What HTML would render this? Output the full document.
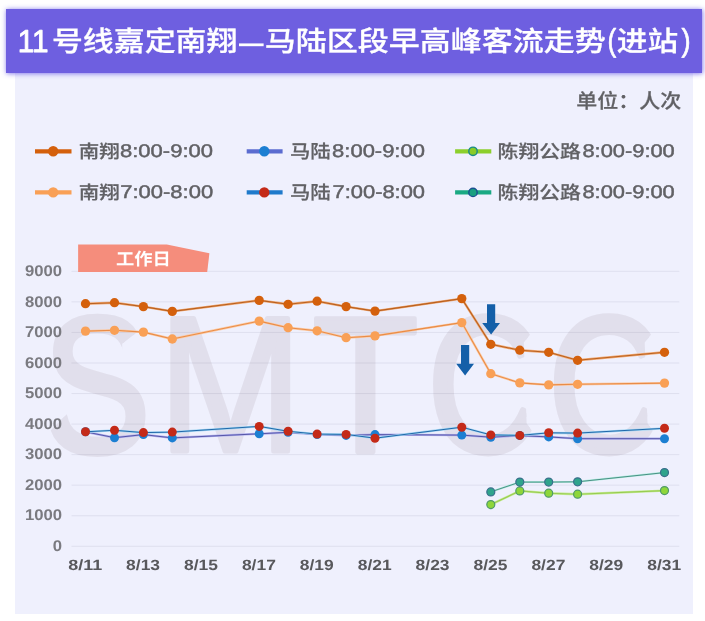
<!DOCTYPE html>
<html lang="zh"><head><meta charset="utf-8"><title>11号线嘉定南翔—马陆区段早高峰客流走势</title>
<style>
html,body{margin:0;padding:0;background:#fff;}
body{width:705px;height:621px;position:relative;overflow:hidden;font-family:"Liberation Sans","Noto Sans CJK SC",sans-serif;}
.panel{position:absolute;left:15px;top:40px;width:678px;height:573.5px;background:#eff0fd;}
.banner{position:absolute;left:6px;top:9px;width:696px;height:64px;background:#6e5fe0;box-shadow:0 0 5px .5px rgba(100,85,230,.85);}
</style></head><body>
<div class="panel"></div>
<div class="banner"></div>
<svg width="705" height="621" viewBox="0 0 705 621" style="position:absolute;left:0;top:0" text-rendering="geometricPrecision" font-family='"Liberation Sans", "Noto Sans CJK SC", sans-serif'>
<defs><clipPath id="wmclip"><path clip-rule="evenodd" d="M0 0H705V621H0Z M523.8 342.5L545.8 315.1V450.7L526.6 423.3Z M644.7 342.5L666.7 315.1V450.7L647.5 423.3Z M122.2 343.8L153 319.8V357H122.2Z M36 445.1V400H81Z"/></clipPath></defs>
<text clip-path="url(#wmclip)"><tspan x="42.91" y="451.56" font-size="193.62" font-weight="400" fill="#e1dfec" textLength="107.28" lengthAdjust="spacingAndGlyphs" stroke="#e1dfec" stroke-width="6" stroke-linejoin="round">S</tspan><tspan x="158.59" y="451.05" font-size="192.60" font-weight="400" fill="#e1dfec" textLength="143.52" lengthAdjust="spacingAndGlyphs" stroke="#e1dfec" stroke-width="5" stroke-linejoin="round">M</tspan><tspan x="311.99" y="451.55" font-size="194.03" font-weight="400" fill="#e1dfec" textLength="106.87" lengthAdjust="spacingAndGlyphs" stroke="#e1dfec" stroke-width="4.3" stroke-linejoin="round">T</tspan><tspan x="427.90" y="451.07" font-size="192.21" font-weight="400" fill="#e1dfec" textLength="112.48" lengthAdjust="spacingAndGlyphs" stroke="#e1dfec" stroke-width="7" stroke-linejoin="round">C</tspan><tspan x="548.75" y="451.07" font-size="192.21" font-weight="400" fill="#e1dfec" textLength="112.86" lengthAdjust="spacingAndGlyphs" stroke="#e1dfec" stroke-width="7" stroke-linejoin="round">C</tspan></text>
<line x1="71.5" x2="679.3" y1="546.30" y2="546.30" stroke="rgba(40,40,80,0.08)" stroke-width="1"/>
<line x1="71.5" x2="679.3" y1="515.75" y2="515.75" stroke="rgba(40,40,80,0.08)" stroke-width="1"/>
<line x1="71.5" x2="679.3" y1="485.20" y2="485.20" stroke="rgba(40,40,80,0.08)" stroke-width="1"/>
<line x1="71.5" x2="679.3" y1="454.65" y2="454.65" stroke="rgba(40,40,80,0.08)" stroke-width="1"/>
<line x1="71.5" x2="679.3" y1="424.10" y2="424.10" stroke="rgba(40,40,80,0.08)" stroke-width="1"/>
<line x1="71.5" x2="679.3" y1="393.55" y2="393.55" stroke="rgba(40,40,80,0.08)" stroke-width="1"/>
<line x1="71.5" x2="679.3" y1="363.00" y2="363.00" stroke="rgba(40,40,80,0.08)" stroke-width="1"/>
<line x1="71.5" x2="679.3" y1="332.45" y2="332.45" stroke="rgba(40,40,80,0.08)" stroke-width="1"/>
<line x1="71.5" x2="679.3" y1="301.90" y2="301.90" stroke="rgba(40,40,80,0.08)" stroke-width="1"/>
<line x1="71.5" x2="679.3" y1="271.35" y2="271.35" stroke="rgba(40,40,80,0.08)" stroke-width="1"/>
<g font-weight="bold" font-size="15.54" fill="#7a7a80">
<text x="52.80" y="551.00" textLength="9.29" lengthAdjust="spacingAndGlyphs">0</text>
<text x="24.94" y="520.45" textLength="37.15" lengthAdjust="spacingAndGlyphs">1000</text>
<text x="24.94" y="489.90" textLength="37.15" lengthAdjust="spacingAndGlyphs">2000</text>
<text x="24.94" y="459.35" textLength="37.15" lengthAdjust="spacingAndGlyphs">3000</text>
<text x="24.94" y="428.80" textLength="37.15" lengthAdjust="spacingAndGlyphs">4000</text>
<text x="24.94" y="398.25" textLength="37.15" lengthAdjust="spacingAndGlyphs">5000</text>
<text x="24.94" y="367.70" textLength="37.15" lengthAdjust="spacingAndGlyphs">6000</text>
<text x="24.94" y="337.15" textLength="37.15" lengthAdjust="spacingAndGlyphs">7000</text>
<text x="24.94" y="306.60" textLength="37.15" lengthAdjust="spacingAndGlyphs">8000</text>
<text x="24.94" y="276.05" textLength="37.15" lengthAdjust="spacingAndGlyphs">9000</text>
</g>
<g font-weight="bold" font-size="14.83" fill="#58585c">
<text x="68.22" y="570.33" textLength="33.95" lengthAdjust="spacingAndGlyphs">8/11</text>
<text x="126.12" y="570.33" textLength="33.95" lengthAdjust="spacingAndGlyphs">8/13</text>
<text x="184.03" y="570.33" textLength="33.95" lengthAdjust="spacingAndGlyphs">8/15</text>
<text x="241.92" y="570.33" textLength="33.95" lengthAdjust="spacingAndGlyphs">8/17</text>
<text x="299.82" y="570.33" textLength="33.95" lengthAdjust="spacingAndGlyphs">8/19</text>
<text x="357.72" y="570.33" textLength="33.95" lengthAdjust="spacingAndGlyphs">8/21</text>
<text x="415.62" y="570.33" textLength="33.95" lengthAdjust="spacingAndGlyphs">8/23</text>
<text x="473.52" y="570.33" textLength="33.95" lengthAdjust="spacingAndGlyphs">8/25</text>
<text x="531.43" y="570.33" textLength="33.95" lengthAdjust="spacingAndGlyphs">8/27</text>
<text x="589.33" y="570.33" textLength="33.95" lengthAdjust="spacingAndGlyphs">8/29</text>
<text x="647.23" y="570.33" textLength="33.95" lengthAdjust="spacingAndGlyphs">8/31</text>
</g>
<polygon points="78.1,244.4 166.8,244.4 209.4,253.3 207.2,272 78.1,272" fill="#f58d7c"/>
<text x="116.01" y="264.55" font-size="17.04" font-weight="700" fill="#fff" textLength="54.91" lengthAdjust="spacingAndGlyphs">工作日</text>
<polyline points="85.5,303.7 114.5,302.7 143.4,306.6 172.3,311.4 259.2,300.4 288.1,304.3 317.1,301.2 346.1,306.6 375.0,311.1 461.8,298.6 490.8,344.3 519.8,350.2 548.7,352.3 577.6,360.3 664.5,352.3" fill="none" stroke="#f2a870" stroke-width="2.4" stroke-linejoin="round"/>
<polyline points="85.5,303.7 114.5,302.7 143.4,306.6 172.3,311.4 259.2,300.4 288.1,304.3 317.1,301.2 346.1,306.6 375.0,311.1 461.8,298.6 490.8,344.3 519.8,350.2 548.7,352.3 577.6,360.3 664.5,352.3" fill="none" stroke="#b86020" stroke-width="1.1" stroke-linejoin="round"/>
<circle cx="85.5" cy="303.7" r="4.65" fill="#d4600c"/>
<circle cx="114.5" cy="302.7" r="4.65" fill="#d4600c"/>
<circle cx="143.4" cy="306.6" r="4.65" fill="#d4600c"/>
<circle cx="172.3" cy="311.4" r="4.65" fill="#d4600c"/>
<circle cx="259.2" cy="300.4" r="4.65" fill="#d4600c"/>
<circle cx="288.1" cy="304.3" r="4.65" fill="#d4600c"/>
<circle cx="317.1" cy="301.2" r="4.65" fill="#d4600c"/>
<circle cx="346.1" cy="306.6" r="4.65" fill="#d4600c"/>
<circle cx="375.0" cy="311.1" r="4.65" fill="#d4600c"/>
<circle cx="461.8" cy="298.6" r="4.65" fill="#d4600c"/>
<circle cx="490.8" cy="344.3" r="4.65" fill="#d4600c"/>
<circle cx="519.8" cy="350.2" r="4.65" fill="#d4600c"/>
<circle cx="548.7" cy="352.3" r="4.65" fill="#d4600c"/>
<circle cx="577.6" cy="360.3" r="4.65" fill="#d4600c"/>
<circle cx="664.5" cy="352.3" r="4.65" fill="#d4600c"/>
<polyline points="85.5,331.1 114.5,330.3 143.4,332.1 172.3,339.0 259.2,321.1 288.1,327.7 317.1,330.8 346.1,337.7 375.0,335.9 461.8,322.6 490.8,373.7 519.8,382.9 548.7,384.9 577.6,384.3 664.5,383.1" fill="none" stroke="#fcc9a2" stroke-width="2.4" stroke-linejoin="round"/>
<polyline points="85.5,331.1 114.5,330.3 143.4,332.1 172.3,339.0 259.2,321.1 288.1,327.7 317.1,330.8 346.1,337.7 375.0,335.9 461.8,322.6 490.8,373.7 519.8,382.9 548.7,384.9 577.6,384.3 664.5,383.1" fill="none" stroke="#e98c48" stroke-width="1.1" stroke-linejoin="round"/>
<circle cx="85.5" cy="331.1" r="4.65" fill="#f9a056"/>
<circle cx="114.5" cy="330.3" r="4.65" fill="#f9a056"/>
<circle cx="143.4" cy="332.1" r="4.65" fill="#f9a056"/>
<circle cx="172.3" cy="339.0" r="4.65" fill="#f9a056"/>
<circle cx="259.2" cy="321.1" r="4.65" fill="#f9a056"/>
<circle cx="288.1" cy="327.7" r="4.65" fill="#f9a056"/>
<circle cx="317.1" cy="330.8" r="4.65" fill="#f9a056"/>
<circle cx="346.1" cy="337.7" r="4.65" fill="#f9a056"/>
<circle cx="375.0" cy="335.9" r="4.65" fill="#f9a056"/>
<circle cx="461.8" cy="322.6" r="4.65" fill="#f9a056"/>
<circle cx="490.8" cy="373.7" r="4.65" fill="#f9a056"/>
<circle cx="519.8" cy="382.9" r="4.65" fill="#f9a056"/>
<circle cx="548.7" cy="384.9" r="4.65" fill="#f9a056"/>
<circle cx="577.6" cy="384.3" r="4.65" fill="#f9a056"/>
<circle cx="664.5" cy="383.1" r="4.65" fill="#f9a056"/>
<polyline points="85.5,431.8 114.5,437.7 143.4,434.6 172.3,437.9 259.2,433.8 288.1,432.3 317.1,434.5 346.1,435.4 375.0,434.6 461.8,435.1 490.8,437.2 519.8,435.6 548.7,436.9 577.6,438.7 664.5,438.7" fill="none" stroke="#b0b0ee" stroke-width="2.2" stroke-linejoin="round"/>
<polyline points="85.5,431.8 114.5,437.7 143.4,434.6 172.3,437.9 259.2,433.8 288.1,432.3 317.1,434.5 346.1,435.4 375.0,434.6 461.8,435.1 490.8,437.2 519.8,435.6 548.7,436.9 577.6,438.7 664.5,438.7" fill="none" stroke="#5656a8" stroke-width="1.0" stroke-linejoin="round"/>
<circle cx="85.5" cy="431.8" r="4.5" fill="#1c7fd2"/>
<circle cx="114.5" cy="437.7" r="4.5" fill="#1c7fd2"/>
<circle cx="143.4" cy="434.6" r="4.5" fill="#1c7fd2"/>
<circle cx="172.3" cy="437.9" r="4.5" fill="#1c7fd2"/>
<circle cx="259.2" cy="433.8" r="4.5" fill="#1c7fd2"/>
<circle cx="288.1" cy="432.3" r="4.5" fill="#1c7fd2"/>
<circle cx="317.1" cy="434.5" r="4.5" fill="#1c7fd2"/>
<circle cx="346.1" cy="435.4" r="4.5" fill="#1c7fd2"/>
<circle cx="375.0" cy="434.6" r="4.5" fill="#1c7fd2"/>
<circle cx="461.8" cy="435.1" r="4.5" fill="#1c7fd2"/>
<circle cx="490.8" cy="437.2" r="4.5" fill="#1c7fd2"/>
<circle cx="519.8" cy="435.6" r="4.5" fill="#1c7fd2"/>
<circle cx="548.7" cy="436.9" r="4.5" fill="#1c7fd2"/>
<circle cx="577.6" cy="438.7" r="4.5" fill="#1c7fd2"/>
<circle cx="664.5" cy="438.7" r="4.5" fill="#1c7fd2"/>
<polyline points="85.5,431.8 114.5,430.3 143.4,432.6 172.3,432.1 259.2,426.4 288.1,431.3 317.1,434.1 346.1,434.4 375.0,438.2 461.8,427.2 490.8,434.9 519.8,435.4 548.7,432.8 577.6,433.1 664.5,428.3" fill="none" stroke="#a2d6f3" stroke-width="2.2" stroke-linejoin="round"/>
<polyline points="85.5,431.8 114.5,430.3 143.4,432.6 172.3,432.1 259.2,426.4 288.1,431.3 317.1,434.1 346.1,434.4 375.0,438.2 461.8,427.2 490.8,434.9 519.8,435.4 548.7,432.8 577.6,433.1 664.5,428.3" fill="none" stroke="#2068aa" stroke-width="1.0" stroke-linejoin="round"/>
<circle cx="85.5" cy="431.8" r="4.5" fill="#c42a18"/>
<circle cx="114.5" cy="430.3" r="4.5" fill="#c42a18"/>
<circle cx="143.4" cy="432.6" r="4.5" fill="#c42a18"/>
<circle cx="172.3" cy="432.1" r="4.5" fill="#c42a18"/>
<circle cx="259.2" cy="426.4" r="4.5" fill="#c42a18"/>
<circle cx="288.1" cy="431.3" r="4.5" fill="#c42a18"/>
<circle cx="317.1" cy="434.1" r="4.5" fill="#c42a18"/>
<circle cx="346.1" cy="434.4" r="4.5" fill="#c42a18"/>
<circle cx="375.0" cy="438.2" r="4.5" fill="#c42a18"/>
<circle cx="461.8" cy="427.2" r="4.5" fill="#c42a18"/>
<circle cx="490.8" cy="434.9" r="4.5" fill="#c42a18"/>
<circle cx="519.8" cy="435.4" r="4.5" fill="#c42a18"/>
<circle cx="548.7" cy="432.8" r="4.5" fill="#c42a18"/>
<circle cx="577.6" cy="433.1" r="4.5" fill="#c42a18"/>
<circle cx="664.5" cy="428.3" r="4.5" fill="#c42a18"/>
<polyline points="490.8,504.6 519.8,490.9 548.7,493.2 577.6,494.2 664.5,490.6" fill="none" stroke="#c6ec94" stroke-width="2.4" stroke-linejoin="round"/>
<polyline points="490.8,504.6 519.8,490.9 548.7,493.2 577.6,494.2 664.5,490.6" fill="none" stroke="#98cc52" stroke-width="1.1" stroke-linejoin="round"/>
<circle cx="490.8" cy="504.6" r="4.0" fill="#8ed63a" stroke="#4f9a6a" stroke-width="1.2"/>
<circle cx="519.8" cy="490.9" r="4.0" fill="#8ed63a" stroke="#4f9a6a" stroke-width="1.2"/>
<circle cx="548.7" cy="493.2" r="4.0" fill="#8ed63a" stroke="#4f9a6a" stroke-width="1.2"/>
<circle cx="577.6" cy="494.2" r="4.0" fill="#8ed63a" stroke="#4f9a6a" stroke-width="1.2"/>
<circle cx="664.5" cy="490.6" r="4.0" fill="#8ed63a" stroke="#4f9a6a" stroke-width="1.2"/>
<polyline points="490.8,491.9 519.8,482.1 548.7,482.1 577.6,481.8 664.5,472.6" fill="none" stroke="#b2eee0" stroke-width="2.0" stroke-linejoin="round"/>
<polyline points="490.8,491.9 519.8,482.1 548.7,482.1 577.6,481.8 664.5,472.6" fill="none" stroke="#4a9085" stroke-width="1.0" stroke-linejoin="round"/>
<circle cx="490.8" cy="491.9" r="4.0" fill="#2fa48c" stroke="#3a6f8c" stroke-width="1.2"/>
<circle cx="519.8" cy="482.1" r="4.0" fill="#2fa48c" stroke="#3a6f8c" stroke-width="1.2"/>
<circle cx="548.7" cy="482.1" r="4.0" fill="#2fa48c" stroke="#3a6f8c" stroke-width="1.2"/>
<circle cx="577.6" cy="481.8" r="4.0" fill="#2fa48c" stroke="#3a6f8c" stroke-width="1.2"/>
<circle cx="664.5" cy="472.6" r="4.0" fill="#2fa48c" stroke="#3a6f8c" stroke-width="1.2"/>
<polygon points="487.0,304.3 495.2,304.3 495.2,322.9 500.0,322.9 491.1,334.4 482.2,322.9 487.0,322.9" fill="#145fa8"/>
<polygon points="461.0,345.1 469.2,345.1 469.2,363.7 474.0,363.7 465.1,375.5 456.2,363.7 461.0,363.7" fill="#145fa8"/>
<line x1="35.0" x2="71.5" y1="151.3" y2="151.3" stroke="#d4600c" stroke-width="4.2"/>
<circle cx="53.2" cy="151.3" r="5.2" fill="#d4600c"/>
<line x1="35.0" x2="71.5" y1="192.4" y2="192.4" stroke="#f9a056" stroke-width="4.2"/>
<circle cx="53.2" cy="192.4" r="5.2" fill="#f9a056"/>
<line x1="246.7" x2="282.6" y1="151.3" y2="151.3" stroke="#5b6cd0" stroke-width="4.2"/>
<circle cx="264.3" cy="151.3" r="5.2" fill="#1c7fd2"/>
<line x1="246.7" x2="282.6" y1="192.4" y2="192.4" stroke="#1f7acb" stroke-width="4.2"/>
<circle cx="264.3" cy="192.4" r="5.2" fill="#c42a18"/>
<line x1="455.1" x2="491.3" y1="151.3" y2="151.3" stroke="#8ccf2c" stroke-width="4.2"/>
<circle cx="473.0" cy="151.3" r="4.2" fill="#8acc28" stroke="#1a8a8a" stroke-width="1.4"/>
<line x1="455.1" x2="491.3" y1="192.4" y2="192.4" stroke="#1aa983" stroke-width="4.2"/>
<circle cx="473.0" cy="192.4" r="4.2" fill="#1aa080" stroke="#1a4f90" stroke-width="1.4"/>
<text><tspan x="78.79" y="157.57" font-size="18.35" font-weight="500" fill="#616165" textLength="41.02" lengthAdjust="spacingAndGlyphs" stroke="#616165" stroke-width="0.2" stroke-linejoin="round">南翔</tspan><tspan x="120.04" y="157.00" font-size="18.39" font-weight="400" fill="#616165" textLength="92.93" lengthAdjust="spacingAndGlyphs" stroke="#616165" stroke-width="0.45" stroke-linejoin="round">8:00-9:00</tspan></text>
<text><tspan x="78.79" y="198.67" font-size="18.35" font-weight="500" fill="#616165" textLength="41.02" lengthAdjust="spacingAndGlyphs" stroke="#616165" stroke-width="0.2" stroke-linejoin="round">南翔</tspan><tspan x="120.23" y="198.10" font-size="18.39" font-weight="400" fill="#616165" textLength="92.91" lengthAdjust="spacingAndGlyphs" stroke="#616165" stroke-width="0.45" stroke-linejoin="round">7:00-8:00</tspan></text>
<text><tspan x="289.97" y="157.64" font-size="18.62" font-weight="500" fill="#616165" textLength="40.77" lengthAdjust="spacingAndGlyphs" stroke="#616165" stroke-width="0.2" stroke-linejoin="round">马陆</tspan><tspan x="332.10" y="157.00" font-size="18.39" font-weight="400" fill="#616165" textLength="92.83" lengthAdjust="spacingAndGlyphs" stroke="#616165" stroke-width="0.45" stroke-linejoin="round">8:00-9:00</tspan></text>
<text><tspan x="289.97" y="198.74" font-size="18.62" font-weight="500" fill="#616165" textLength="40.77" lengthAdjust="spacingAndGlyphs" stroke="#616165" stroke-width="0.2" stroke-linejoin="round">马陆</tspan><tspan x="332.55" y="198.10" font-size="18.39" font-weight="400" fill="#616165" textLength="92.49" lengthAdjust="spacingAndGlyphs" stroke="#616165" stroke-width="0.45" stroke-linejoin="round">7:00-8:00</tspan></text>
<text><tspan x="497.60" y="157.67" font-size="18.29" font-weight="500" fill="#616165" textLength="83.36" lengthAdjust="spacingAndGlyphs" stroke="#616165" stroke-width="0.2" stroke-linejoin="round">陈翔公路</tspan><tspan x="582.42" y="157.00" font-size="18.39" font-weight="400" fill="#616165" textLength="92.39" lengthAdjust="spacingAndGlyphs" stroke="#616165" stroke-width="0.45" stroke-linejoin="round">8:00-9:00</tspan></text>
<text><tspan x="497.60" y="198.77" font-size="18.29" font-weight="500" fill="#616165" textLength="83.36" lengthAdjust="spacingAndGlyphs" stroke="#616165" stroke-width="0.2" stroke-linejoin="round">陈翔公路</tspan><tspan x="582.42" y="198.10" font-size="18.39" font-weight="400" fill="#616165" textLength="92.39" lengthAdjust="spacingAndGlyphs" stroke="#616165" stroke-width="0.45" stroke-linejoin="round">8:00-9:00</tspan></text>
<text x="576.37" y="107.98" font-size="20.04" font-weight="500" fill="#616165" textLength="104.85" lengthAdjust="spacingAndGlyphs" stroke="#616165" stroke-width="0.25" stroke-linejoin="round">单位：人次</text>
<text><tspan x="17.79" y="51.70" font-size="31.53" font-weight="500" fill="#fff" textLength="30.83" lengthAdjust="spacingAndGlyphs" stroke="#fff" stroke-width="0.9" stroke-linejoin="round">11</tspan><tspan x="51.94" y="51.39" font-size="27.77" font-weight="500" fill="#fff" textLength="185.43" lengthAdjust="spacingAndGlyphs" stroke="#fff" stroke-width="0.3" stroke-linejoin="round">号线嘉定南翔</tspan><tspan x="239.00" y="54.52" font-size="40.17" font-weight="500" fill="#fff" textLength="24.60" lengthAdjust="spacingAndGlyphs">—</tspan><tspan x="264.76" y="51.39" font-size="27.77" font-weight="500" fill="#fff" textLength="340.91" lengthAdjust="spacingAndGlyphs" stroke="#fff" stroke-width="0.3" stroke-linejoin="round">马陆区段早高峰客流走势</tspan><tspan x="607.41" y="50.94" font-size="31.73" font-weight="500" fill="#fff" textLength="8.74" lengthAdjust="spacingAndGlyphs" stroke="#fff" stroke-width="0.7" stroke-linejoin="round">(</tspan><tspan x="616.79" y="51.39" font-size="27.77" font-weight="500" fill="#fff" textLength="61.30" lengthAdjust="spacingAndGlyphs" stroke="#fff" stroke-width="0.3" stroke-linejoin="round">进站</tspan><tspan x="681.51" y="50.94" font-size="31.73" font-weight="500" fill="#fff" textLength="9.12" lengthAdjust="spacingAndGlyphs" stroke="#fff" stroke-width="0.7" stroke-linejoin="round">)</tspan></text>
</svg>
</body></html>
